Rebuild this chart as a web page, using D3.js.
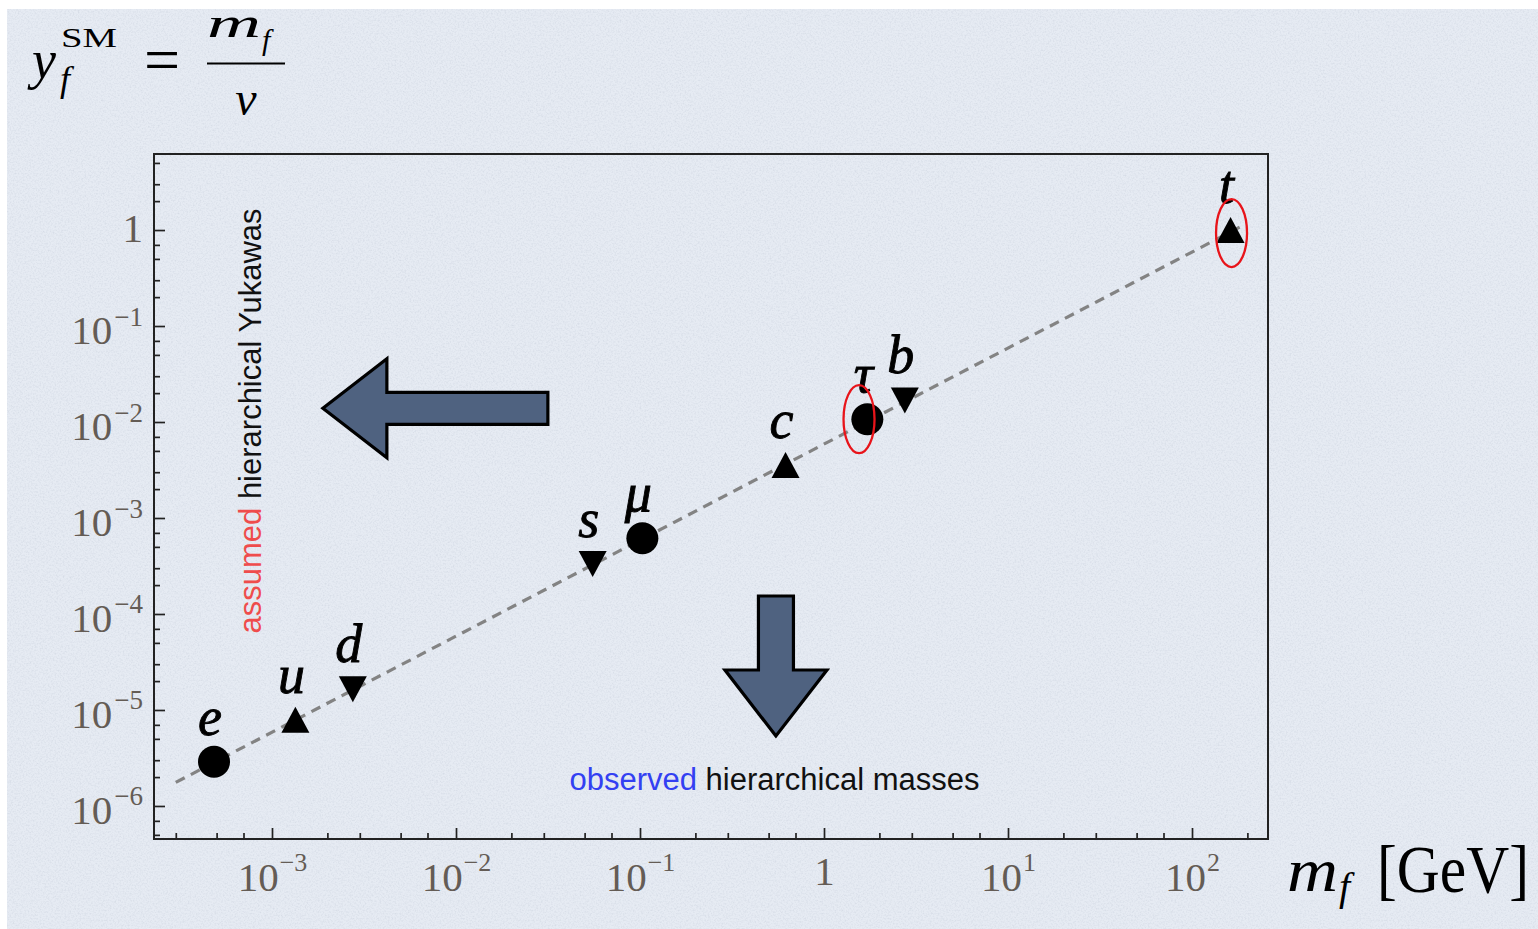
<!DOCTYPE html>
<html>
<head>
<meta charset="utf-8">
<script src="https://cdn.jsdelivr.net/npm/d3@7"></script>
<style>
html,body{margin:0;padding:0;background:#ffffff;}
svg{display:block;}
</style>
</head>
<body>
<svg id="chart" width="1538" height="929"></svg>
<script>
// ---------------- data ----------------
const fermions      = ["e", "u", "d", "s", "μ", "c", "τ", "b", "t"];
const masses        = [4.84e-4, 1.34e-3, 2.75e-3, 0.0553, 0.103, 0.618, 1.72, 2.75, 162];
const yukawas       = [2.89e-6, 7.9e-6, 1.64e-5, 3.32e-4, 6.15e-4, 3.56e-3, 0.0107, 0.0168, 1.0];
const markerShapes  = ["circle", "up", "down", "down", "circle", "up", "circle", "down", "up"];
const xTickExponents = [-3, -2, -1, 0, 1, 2];
const yTickExponents = [0, -1, -2, -3, -4, -5, -6];
const minorMantissas = [2, 3, 5, 7];
const guideMass      = [3.0e-4, 195];
const guideYukawa    = [1.76e-6, 1.15];
const highlightMass    = [1.55, 164];
const highlightYukawa  = [0.0107, 0.93];
const leftArrowTip  = [1.89e-3, 0.0139];
const downArrowTip  = [0.548, 5.36e-6];

// ---------------- layout ----------------
const W = 1538, H = 929;
const plot = {left: 154, right: 1268, top: 154, bottom: 839};
const svg = d3.select("#chart");

// background with paper texture
const defs = svg.append("defs");
const flt = defs.append("filter").attr("id", "paper").attr("x", 0).attr("y", 0).attr("width", "100%").attr("height", "100%");
flt.append("feTurbulence").attr("type", "fractalNoise").attr("baseFrequency", "0.6").attr("numOctaves", 3).attr("seed", 7).attr("result", "n");
flt.append("feColorMatrix").attr("in", "n").attr("type", "matrix")
   .attr("values", "0 0 0 0 0.35  0 0 0 0 0.40  0 0 0 0 0.50  0.9 0 0 0 -0.38");
svg.append("rect").attr("x", 7).attr("y", 9).attr("width", W - 7).attr("height", H - 9).attr("fill", "#e6ebf3");
svg.append("rect").attr("x", 7).attr("y", 9).attr("width", W - 7).attr("height", H - 9).attr("filter", "url(#paper)").attr("opacity", 0.5);

// scales
const x = d3.scaleLog().domain([Math.pow(10, -3.6413), Math.pow(10, 2.4130)]).range([plot.left, plot.right]);
const y = d3.scaleLog().domain([Math.pow(10, -6.344), Math.pow(10, 0.792)]).range([plot.bottom, plot.top]);

const majorX = xTickExponents.map(e => Math.pow(10, e));
const majorY = yTickExponents.map(e => Math.pow(10, e));
function minors(scale) {
  const [a, b] = scale.domain();
  const lo = Math.min(a, b), hi = Math.max(a, b);
  const out = [];
  for (let e = Math.floor(Math.log10(lo)); e <= Math.ceil(Math.log10(hi)); e++) {
    minorMantissas.forEach(m => {
      const v = m * Math.pow(10, e);
      if (v >= lo && v <= hi) out.push(v);
    });
  }
  return out;
}

const tickColor = "#222";
const labelColor = "#645c55";
const serif = "'Liberation Serif', 'Times New Roman', serif";

function styleAxis(g) {
  g.select(".domain").remove();
  g.selectAll(".tick line").attr("stroke", tickColor).attr("stroke-width", 1.7);
}

// minor ticks
svg.append("g").attr("transform", `translate(0,${plot.bottom})`)
  .call(d3.axisBottom(x).tickValues(minors(x)).tickSize(-6).tickSizeOuter(0).tickFormat(() => ""))
  .call(styleAxis);
svg.append("g").attr("transform", `translate(${plot.left},0)`)
  .call(d3.axisLeft(y).tickValues(minors(y)).tickSize(-6).tickSizeOuter(0).tickFormat(() => ""))
  .call(styleAxis);

// major ticks with labels
const gx = svg.append("g").attr("transform", `translate(0,${plot.bottom})`)
  .call(d3.axisBottom(x).tickValues(majorX).tickSize(-11).tickSizeOuter(0).tickPadding(0))
  .call(styleAxis);
gx.selectAll(".tick text").each(function (d) {
  const e = Math.round(Math.log10(d));
  const t = d3.select(this).attr("dy", null).attr("text-anchor", "middle")
    .attr("font-family", serif).attr("font-size", 41).attr("fill", labelColor).text(null);
  if (e === 0) {
    t.attr("y", 46).text("1");
  } else {
    t.attr("y", 52);
    t.append("tspan").text("10");
    t.append("tspan").attr("dx", 1).attr("dy", -20).attr("font-size", 26).text(e < 0 ? "−" + Math.abs(e) : String(e));
  }
});

const gy = svg.append("g").attr("transform", `translate(${plot.left},0)`)
  .call(d3.axisLeft(y).tickValues(majorY).tickSize(-11).tickSizeOuter(0).tickPadding(0))
  .call(styleAxis);
gy.selectAll(".tick text").each(function (d) {
  const e = Math.round(Math.log10(d));
  const t = d3.select(this).attr("dy", null).attr("x", -11).attr("text-anchor", "end")
    .attr("font-family", serif).attr("font-size", 41).attr("fill", labelColor).text(null);
  if (e === 0) {
    t.attr("y", 11).text("1");
  } else {
    t.attr("y", 17.7);
    t.append("tspan").text("10");
    t.append("tspan").attr("dx", 2).attr("dy", -18.7).attr("font-size", 27).text("−" + Math.abs(e));
  }
});

// frame
svg.append("rect").attr("x", plot.left).attr("y", plot.top)
  .attr("width", plot.right - plot.left).attr("height", plot.bottom - plot.top)
  .attr("fill", "none").attr("stroke", tickColor).attr("stroke-width", 2);

// annotation arrows
const arrowFill = "#4f6280";
const leftArrowPath = "M0,0 L64,-49.5 L64,-16 L225,-16 L225,16 L64,16 L64,49.5 Z";
const downArrowPath = "M0,0 L-51,-66 L-17.5,-66 L-17.5,-140 L17.5,-140 L17.5,-66 L51,-66 Z";
svg.append("path").attr("d", leftArrowPath)
  .attr("transform", `translate(${x(leftArrowTip[0])},${y(leftArrowTip[1])})`)
  .attr("fill", arrowFill).attr("stroke", "#000").attr("stroke-width", 3.2).attr("stroke-linejoin", "miter");
svg.append("path").attr("d", downArrowPath)
  .attr("transform", `translate(${x(downArrowTip[0])},${y(downArrowTip[1])})`)
  .attr("fill", arrowFill).attr("stroke", "#000").attr("stroke-width", 3.2).attr("stroke-linejoin", "miter");

// annotation texts
const sans = "'Liberation Sans', Arial, Helvetica, sans-serif";
const t1 = svg.append("text").attr("transform", "translate(261,421) rotate(-90)")
  .attr("text-anchor", "middle").attr("font-family", sans).attr("font-size", 31).attr("fill", "#111");
t1.append("tspan").attr("fill", "#ef4c4c").text("assumed");
t1.append("tspan").text(" hierarchical Yukawas");
const t2 = svg.append("text").attr("x", 774.5).attr("y", 790)
  .attr("text-anchor", "middle").attr("font-family", sans).attr("font-size", 31).attr("fill", "#111");
t2.append("tspan").attr("fill", "#3340f2").text("observed");
t2.append("tspan").text(" hierarchical masses");

// guide line
const pts = guideMass.map((m, i) => [m, guideYukawa[i]]);
svg.append("path").datum(pts)
  .attr("d", d3.line().x(d => x(d[0])).y(d => y(d[1])))
  .attr("fill", "none").attr("stroke", "#838383").attr("stroke-width", 3.2).attr("stroke-dasharray", "10,7");

// markers
const TW = 28, TH = 26;
const triUp = {draw(ctx) { ctx.moveTo(0, -TH / 2); ctx.lineTo(TW / 2, TH / 2); ctx.lineTo(-TW / 2, TH / 2); ctx.closePath(); }};
const triDown = {draw(ctx) { ctx.moveTo(0, TH / 2); ctx.lineTo(TW / 2, -TH / 2); ctx.lineTo(-TW / 2, -TH / 2); ctx.closePath(); }};
const symType = {circle: d3.symbolCircle, up: triUp, down: triDown};
const pointsData = fermions.map((f, i) => ({name: f, m: masses[i], yk: yukawas[i], shape: markerShapes[i]}));

svg.append("g").selectAll("path").data(pointsData).join("path")
  .attr("transform", d => `translate(${x(d.m)},${y(d.yk)})`)
  .attr("d", d => d3.symbol().type(symType[d.shape]).size(Math.PI * 16 * 16)())
  .attr("fill", "#000");

svg.append("g").selectAll("text").data(pointsData).join("text")
  .attr("x", d => x(d.m) - 4).attr("y", d => y(d.yk) - 27)
  .attr("text-anchor", "middle").attr("font-family", serif).attr("font-style", "italic")
  .attr("font-size", 54).attr("fill", "#000").attr("stroke", "#000").attr("stroke-width", 0.9)
  .text(d => d.name);

// highlight ellipses
svg.append("g").selectAll("ellipse").data(highlightMass.map((m, i) => [m, highlightYukawa[i]])).join("ellipse")
  .attr("cx", d => x(d[0])).attr("cy", d => y(d[1])).attr("rx", 15.5).attr("ry", 34)
  .attr("fill", "none").attr("stroke", "#e8141a").attr("stroke-width", 2.3);

// formula top-left
const fm = svg.append("g").attr("font-family", serif).attr("fill", "#000");
fm.append("text").attr("x", 32).attr("y", 78).attr("font-style", "italic").attr("font-size", 54).text("y");
fm.append("text").attr("x", 61).attr("y", 47).attr("font-size", 28).attr("textLength", 56).attr("lengthAdjust", "spacingAndGlyphs").text("SM");
fm.append("text").attr("x", 60).attr("y", 91).attr("font-style", "italic").attr("font-size", 36).text("f");
fm.append("text").attr("x", 162).attr("y", 81).attr("text-anchor", "middle").attr("font-size", 64).text("=");
fm.append("line").attr("x1", 207).attr("x2", 285).attr("y1", 63.5).attr("y2", 63.5).attr("stroke", "#000").attr("stroke-width", 2);
fm.append("text").attr("x", 207).attr("y", 37).attr("font-style", "italic").attr("font-size", 42).attr("textLength", 54).attr("lengthAdjust", "spacingAndGlyphs").text("m");
fm.append("text").attr("x", 262).attr("y", 50).attr("font-style", "italic").attr("font-size", 30).text("f");
fm.append("text").attr("x", 246).attr("y", 115).attr("text-anchor", "middle").attr("font-style", "italic").attr("font-size", 48).text("v");

// x-axis title
const xl = svg.append("g").attr("font-family", serif).attr("fill", "#000");
xl.append("text").attr("x", 1287).attr("y", 891).attr("font-style", "italic").attr("font-size", 62).attr("textLength", 51).attr("lengthAdjust", "spacingAndGlyphs").text("m");
xl.append("text").attr("x", 1339).attr("y", 900).attr("font-style", "italic").attr("font-size", 40).text("f");
xl.append("text").attr("transform", "translate(1377,892) scale(1,1.12)")
  .attr("font-size", 60).attr("textLength", 152).attr("lengthAdjust", "spacingAndGlyphs").text("[GeV]");
</script>
</body>
</html>
